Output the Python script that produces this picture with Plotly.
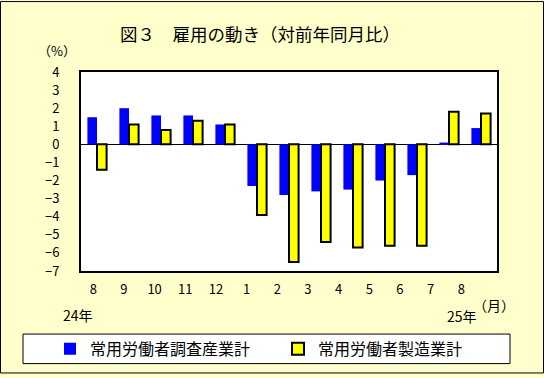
import plotly.graph_objects as go

months = ["8", "9", "10", "11", "12", "1", "2", "3", "4", "5", "6", "7", "8"]
cats = [f"c{i}" for i in range(len(months))]
all_industries = [1.5, 2.0, 1.6, 1.6, 1.1, -2.3, -2.8, -2.6, -2.5, -2.0, -1.7, 0.1, 0.9]
manufacturing = [-1.4, 1.1, 0.8, 1.3, 1.1, -3.9, -6.5, -5.4, -5.7, -5.6, -5.6, 1.8, 1.7]
series_names = ["常用労働者調査産業計", "常用労働者製造業計"]
y_ticks = [4, 3, 2, 1, 0, -1, -2, -3, -4, -5, -6, -7]

FONT = "Noto Sans CJK JP"
W, H = 544, 378
L, R, T, B = 81, 497, 72, 274

def px(x):
    return (x - L) / (R - L)

def py(y):
    return (B - y) / (B - T)

fig = go.Figure()
fig.add_trace(go.Bar(x=cats, y=all_industries, name=series_names[0],
                     marker=dict(color="#0000FF", line=dict(width=0))))
fig.add_trace(go.Bar(x=cats, y=manufacturing, name=series_names[1],
                     marker=dict(color="#FFFF00", line=dict(color="black", width=2))))
# label carrier on an overlaid axis (month labels are spaced slightly tighter than the bars)
fig.add_trace(go.Scatter(x=list(range(len(months))), y=[None] * len(months), xaxis="x2",
                         mode="markers", showlegend=False, hoverinfo="skip"))

fig.update_layout(
    width=W, height=H,
    margin=dict(l=L, r=W - R, t=T, b=H - B, pad=0),
    paper_bgcolor="#FFFFCC", plot_bgcolor="white",
    font=dict(family=FONT, color="black", size=13),
    barmode="group", bargap=0.4, bargroupgap=0,
    showlegend=True,
    legend=dict(orientation="h", x=px(50), xanchor="left", y=py(353), yanchor="middle",
                bgcolor="rgba(0,0,0,0)", borderwidth=0, font=dict(size=16, family=FONT),
                entrywidth=183, entrywidthmode="pixels", itemwidth=30, traceorder="normal"),
    xaxis=dict(tickmode="array", tickvals=cats, ticktext=months, showticklabels=False,
               showgrid=False, showline=True, linecolor="black", linewidth=2, mirror=True,
               ticks=""),
    xaxis2=dict(overlaying="x", anchor="y", side="bottom", range=[-0.40, 13.165],
                tickmode="array", tickvals=list(range(len(months))), ticktext=months,
                showgrid=False, showline=False, zeroline=False, ticks="",
                ticklabelstandoff=9, tickfont=dict(size=13)),
    yaxis=dict(range=[-7, 4], tickmode="array", tickvals=y_ticks,
               ticktext=[str(v).replace("-", "−") for v in y_ticks],
               showgrid=False, zeroline=True, zerolinecolor="black", zerolinewidth=1,
               showline=True, linecolor="black", linewidth=2, mirror=True,
               ticks="", ticklabelstandoff=17, tickfont=dict(size=13)),
)

# outer border and legend box
fig.add_shape(type="rect", xref="paper", yref="paper", layer="below",
              x0=px(0.5), x1=px(W - 0.5), y0=py(H - 0.5), y1=py(0.5),
              line=dict(color="black", width=1), fillcolor="rgba(0,0,0,0)")
fig.add_shape(type="rect", xref="paper", yref="paper", layer="below",
              x0=px(23), x1=px(510), y0=py(368), y1=py(338),
              line=dict(color="black", width=1), fillcolor="white")

def ann(text, x, y, size, xanchor="center"):
    fig.add_annotation(text=text, xref="paper", yref="paper", x=px(x), y=py(y),
                       xanchor=xanchor, yanchor="middle", showarrow=False,
                       font=dict(size=size, family=FONT, color="black"))

ann("図３　雇用の動き（対前年同月比）", 260, 33, 17.5)
ann("（%）", 57, 50, 13)
ann("24年", 78, 319, 14)
ann("25年", 462, 320, 14)
ann("（月）", 494, 309, 14)

fig.write_html("out.html", config={"displayModeBar": False},
               post_script="document.body.style.margin='0';document.body.style.overflow='hidden';")
